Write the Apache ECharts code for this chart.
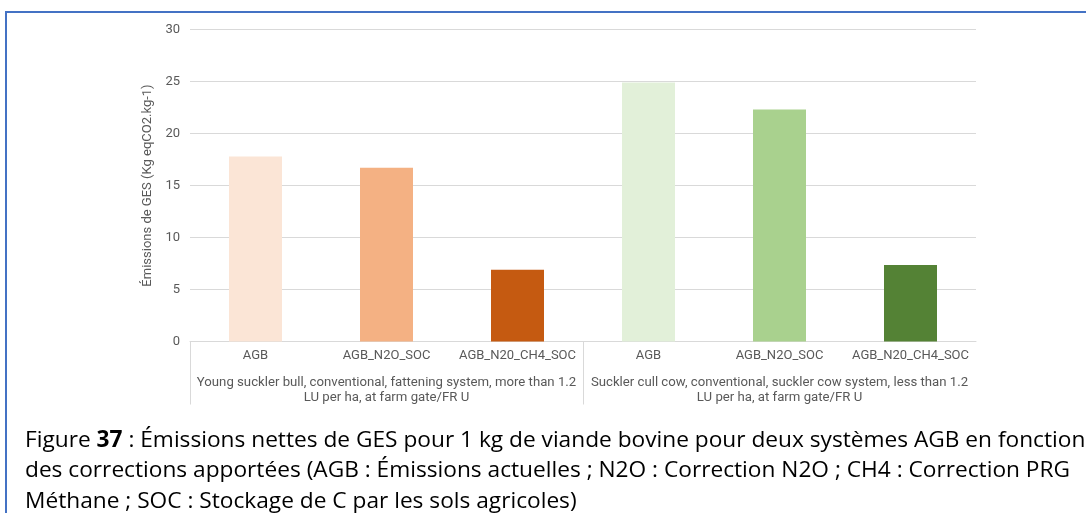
<!DOCTYPE html>
<html lang="fr">
<head>
    <meta charset="UTF-8">
    <title>Figure 37</title>
    <script src="https://cdn.jsdelivr.net/npm/echarts@6/dist/echarts.min.js"></script>
    <style>
        html, body { margin: 0; padding: 0; background: #fff; }
        #main { width: 1086px; height: 513px; }
    </style>
</head>
<body>
<div id="main"></div>
<script type="text/javascript">
    // données
    var categories = ['AGB', 'AGB_N2O_SOC', 'AGB_N20_CH4_SOC', 'AGB', 'AGB_N2O_SOC', 'AGB_N20_CH4_SOC'];
    var groups = [
        'Young suckler bull, conventional, fattening system, more than 1.2\nLU per ha, at farm gate/FR U',
        'Suckler cull cow, conventional, suckler cow system, less than 1.2\nLU per ha, at farm gate/FR U'
    ];
    var values = [17.8, 16.7, 6.9, 24.9, 22.3, 7.35];
    var barColors = ['#FBE5D6', '#F4B183', '#C55A11', '#E2F0D9', '#A9D18E', '#548235'];
    var yTicks = [0, 5, 10, 15, 20, 25, 30];

    var myChart = echarts.init(document.getElementById('main'));
    var captionFont = '"Open Sans", sans-serif';
    var labelFont = 'Roboto, sans-serif';

    var option = {
        animation: false,
        textStyle: { fontFamily: labelFont },
        title: {
            left: 20,
            top: 420,
            text: '{a|Figure }{b|37}{a| : Émissions nettes de GES pour 1 kg de viande bovine pour deux systèmes AGB en fonction}\n' +
                  '{a|des corrections apportées (AGB : Émissions actuelles ; N2O : Correction N2O ; CH4 : Correction PRG}\n' +
                  '{a|Méthane ; SOC : Stockage de C par les sols agricoles)}',
            textStyle: {
                fontWeight: 'normal',
                rich: {
                    a: { fontFamily: captionFont, fontSize: 22.7, color: '#000', fontWeight: 'normal', lineHeight: 30.5 },
                    b: { fontFamily: captionFont, fontSize: 22.7, color: '#000', fontWeight: 'bold', lineHeight: 30.5 }
                }
            }
        },
        graphic: [{
            type: 'rect',
            shape: { x: 6, y: 12, width: 1100, height: 520 },
            style: { fill: 'none', stroke: '#4472C4', lineWidth: 2 },
            silent: true
        }],
        grid: { left: 190, right: 110, top: 29.5, bottom: 171.5 },
        xAxis: [{
            type: 'category',
            data: categories,
            axisLine: { lineStyle: { color: '#d9d9d9', width: 1 } },
            axisTick: { show: false },
            axisLabel: { color: '#595959', fontSize: 13, margin: 8, interval: 0 }
        }, {
            type: 'category',
            data: groups,
            position: 'bottom',
            axisLine: { show: false },
            axisTick: { show: false },
            axisLabel: { color: '#595959', fontSize: 13.2, margin: 34, lineHeight: 15, interval: 0 }
        }],
        yAxis: {
            type: 'value',
            min: yTicks[0],
            max: yTicks[yTicks.length - 1],
            interval: 5,
            name: 'Émissions de GES (Kg eqCO2.kg-1)',
            nameLocation: 'middle',
            nameGap: 28,
            nameTextStyle: { color: '#595959', fontSize: 13 },
            axisLine: { show: false },
            axisTick: { show: false },
            axisLabel: { color: '#595959', fontSize: 13, margin: 10 },
            splitLine: { lineStyle: { color: '#d9d9d9', width: 1 } }
        },
        series: [{
            type: 'bar',
            xAxisIndex: 0,
            barWidth: 53,
            data: values.map(function (v, i) {
                return { value: v, itemStyle: { color: barColors[i] } };
            })
        }]
    };
    myChart.setOption(option);

    // séparateurs verticaux au début de chaque groupe (pas à la fin)
    var c0 = myChart.convertToPixel({ xAxisIndex: 0 }, 0);
    var c1 = myChart.convertToPixel({ xAxisIndex: 0 }, 1);
    var band = c1 - c0;
    var y0 = myChart.convertToPixel({ yAxisIndex: 0 }, 0);
    var seps = [0, 3].map(function (k) {
        var x = Math.round(c0 - band / 2 + k * band) + 0.5;
        return {
            type: 'line',
            shape: { x1: x, y1: y0, x2: x, y2: y0 + 63 },
            style: { stroke: '#d9d9d9', lineWidth: 1 },
            silent: true
        };
    });
    myChart.setOption({ graphic: option.graphic.concat(seps) });
</script>
</body>
</html>
